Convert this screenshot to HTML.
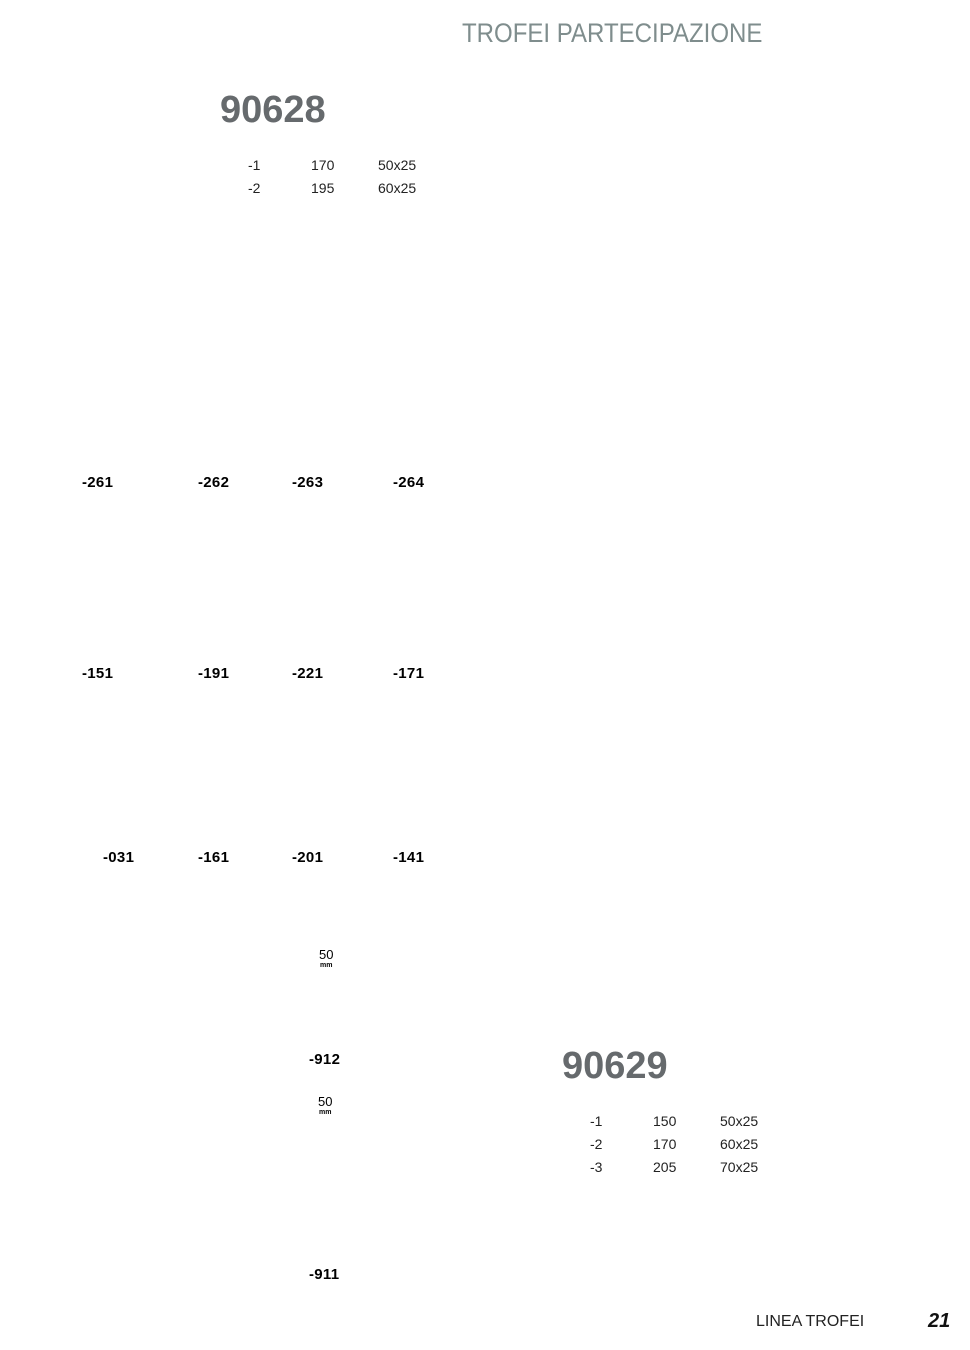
<!DOCTYPE html>
<html><head><style>
body{margin:0;width:970px;height:1350px;background:#fff;position:relative;font-family:"Liberation Sans",sans-serif;overflow:hidden}
.a{position:absolute;white-space:nowrap}
.h{font-size:27px;color:#7f8d8d;font-weight:normal;transform:scaleX(0.89);transform-origin:left top}
.n{font-size:38px;font-weight:bold;color:#666a6d}
.t{font-size:14px;color:#222}
.b{font-size:15px;font-weight:bold;color:#000;letter-spacing:0.3px}
.mm{font-size:13px;color:#000;text-align:center;line-height:11px}
.mm small{font-size:7px;font-weight:bold;display:block}
</style></head><body>
<div class="a h" style="left:462px;top:18px">TROFEI PARTECIPAZIONE</div>
<div class="a n" style="left:220px;top:89px">90628</div>
<div class="a t" style="left:248px;top:157px">-1</div><div class="a t" style="left:311px;top:157px">170</div><div class="a t" style="left:378px;top:157px">50x25</div>
<div class="a t" style="left:248px;top:180px">-2</div><div class="a t" style="left:311px;top:180px">195</div><div class="a t" style="left:378px;top:180px">60x25</div>
<div class="a b" style="left:82px;top:474px">-261</div><div class="a b" style="left:198px;top:474px">-262</div><div class="a b" style="left:292px;top:474px">-263</div><div class="a b" style="left:393px;top:474px">-264</div>
<div class="a b" style="left:82px;top:665px">-151</div><div class="a b" style="left:198px;top:665px">-191</div><div class="a b" style="left:292px;top:665px">-221</div><div class="a b" style="left:393px;top:665px">-171</div>
<div class="a b" style="left:103px;top:849px">-031</div><div class="a b" style="left:198px;top:849px">-161</div><div class="a b" style="left:292px;top:849px">-201</div><div class="a b" style="left:393px;top:849px">-141</div>
<div class="a mm" style="left:319px;top:949px">50<small>mm</small></div>
<div class="a b" style="left:309px;top:1051px">-912</div>
<div class="a mm" style="left:318px;top:1096px">50<small>mm</small></div>
<div class="a b" style="left:309px;top:1266px">-911</div>
<div class="a n" style="left:562px;top:1045px">90629</div>
<div class="a t" style="left:590px;top:1113px">-1</div><div class="a t" style="left:653px;top:1113px">150</div><div class="a t" style="left:720px;top:1113px">50x25</div>
<div class="a t" style="left:590px;top:1136px">-2</div><div class="a t" style="left:653px;top:1136px">170</div><div class="a t" style="left:720px;top:1136px">60x25</div>
<div class="a t" style="left:590px;top:1159px">-3</div><div class="a t" style="left:653px;top:1159px">205</div><div class="a t" style="left:720px;top:1159px">70x25</div>
<div class="a" style="left:756px;top:1313px;font-size:16px;color:#222">LINEA TROFEI</div>
<div class="a" style="left:928px;top:1310px;font-size:20px;font-weight:bold;font-style:italic;color:#111">21</div>
</body></html>
